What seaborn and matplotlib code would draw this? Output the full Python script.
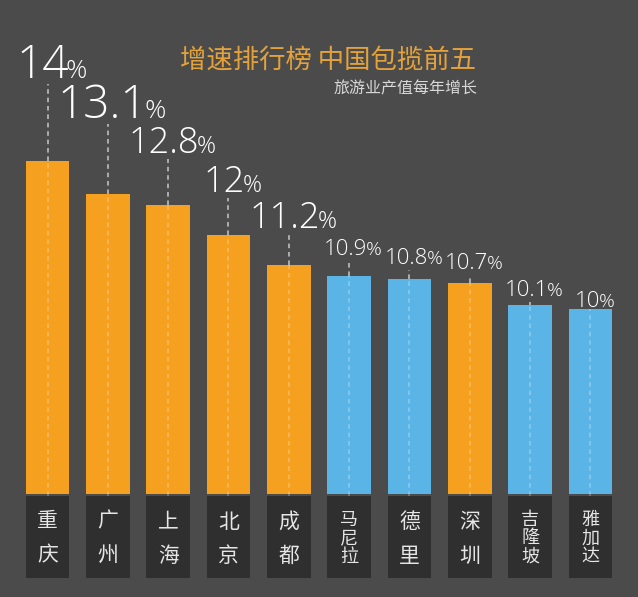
import matplotlib
matplotlib.use("Agg")
import matplotlib.pyplot as plt
import matplotlib.transforms as mtransforms
import seaborn as sns

# ------------------ Data ------------------
cities = ["重庆", "广州", "上海", "北京", "成都", "马尼拉", "德里", "深圳", "吉隆坡", "雅加达"]
growth = [14, 13.1, 12.8, 12, 11.2, 10.9, 10.8, 10.7, 10.1, 10]
value_labels = ["14", "13.1", "12.8", "12", "11.2", "10.9", "10.8", "10.7", "10.1", "10"]
is_china = [True, True, True, True, True, False, False, True, False, False]

title = "增速排行榜 中国包揽前五"
subtitle = "旅游业产值每年增长"

# ------------------ Style ------------------
BG = "#4b4b4b"
BOX = "#2f2f2f"
ORANGE = "#f5a01e"
BLUE = "#5ab4e6"
PX_PER_UNIT = 37.0          # vertical pixels per percentage point
Y0 = 5                      # bars start at 5%

# label layout (pixels): gap between bar top and number baseline, font sizes
label_gap = [83, 76, 52, 43, 37, 21, 15, 14, 9, 2]
num_size = [33, 33, 26, 26, 26, 16, 16, 16, 16, 16]
pct_size = [19, 19, 17, 17, 17, 14, 14, 14, 14, 14]

sns.set_theme(style="dark")
plt.rcParams["font.family"] = ["Noto Sans CJK SC", "DejaVu Sans"]

fig = plt.figure(figsize=(6.38, 5.97), dpi=100, facecolor=BG)
ax = fig.add_axes([0, 1 - 494 / 597, 1, 494 / 597])
ax.set_facecolor(BG)

colors = [ORANGE if c else BLUE for c in is_china]
sns.barplot(x=cities, y=growth, hue=cities, palette=colors, legend=False,
            width=0.72, saturation=1, linewidth=0, edgecolor="none", ax=ax, zorder=2)

ax.set_ylim(Y0, Y0 + 494 / PX_PER_UNIT)
ax.set_xlim(-47.5 / 60.33, (638 - 47.5) / 60.33)
ax.axis("off")

# dark name boxes below the bars
box_top = Y0 - 2 / PX_PER_UNIT
box_bot = Y0 - 84 / PX_PER_UNIT
ax.bar(range(len(cities)), box_top - box_bot, bottom=box_bot, width=0.72,
       color=BOX, linewidth=0, clip_on=False, zorder=2)

name_mid = Y0 - 44.5 / PX_PER_UNIT
for i, name in enumerate(cities):
    n = len(name)
    step = 34 if n == 2 else 18.5
    size = 15 if n == 2 else 13
    for k, ch in enumerate(name):
        yy = name_mid + ((n - 1) / 2 - k) * step / PX_PER_UNIT
        ax.text(i, yy, ch, ha="center", va="center", color="#e6e6e6",
                fontsize=size, clip_on=False, zorder=3)

# value labels
num_font = ["Open Sans", "DejaVu Sans"]
texts = []
for i, (v, lab) in enumerate(zip(growth, value_labels)):
    yb = v + label_gap[i] / PX_PER_UNIT
    t1 = ax.text(i, yb, lab, ha="left", va="baseline", color="white",
                 fontsize=num_size[i], family=num_font, fontweight="light", zorder=4)
    t2 = ax.text(i, yb, "%", ha="left", va="baseline", color="white",
                 fontsize=pct_size[i], family=num_font, fontweight="light", zorder=4)
    texts.append((t1, t2))

fig.canvas.draw()
renderer = fig.canvas.get_renderer()
for i, (t1, t2) in enumerate(texts):
    w1 = t1.get_window_extent(renderer).width
    w2 = t2.get_window_extent(renderer).width
    gap = -0.09 * num_size[i]
    total = w1 + w2 + gap
    dx = -total / 2 + 4
    t1.set_transform(mtransforms.offset_copy(ax.transData, fig, x=dx, y=0, units="dots"))
    t2.set_transform(mtransforms.offset_copy(ax.transData, fig, x=dx + w1 + gap, y=0, units="dots"))

# dashed guide lines
for i, v in enumerate(growth):
    top = v + (label_gap[i] - 6) / PX_PER_UNIT
    if label_gap[i] > 8:
        ax.plot([i, i], [v, top], color="#c8c8c8", lw=1.1, dashes=(3, 2.5), zorder=3)
    ax.plot([i, i], [box_top, v], color="white", alpha=0.3, lw=1.1,
            dashes=(3, 2.5), zorder=3, clip_on=False)

fig.text(476 / 638, 1 - 60.5 / 597, title, ha="right", va="center",
         color="#e3a23c", fontsize=19)
fig.text(478 / 638, 1 - 88.5 / 597, subtitle, ha="right", va="center",
         color="#d8d8d8", fontsize=11.5)

fig.savefig("out.png", dpi=100, facecolor=BG)
